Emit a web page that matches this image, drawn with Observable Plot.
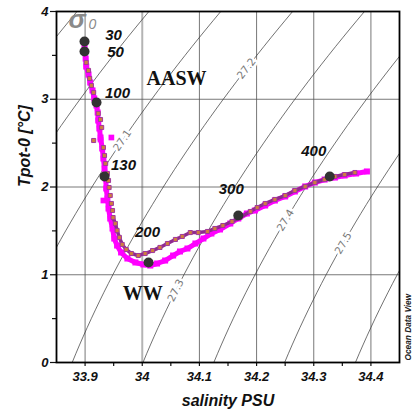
<!DOCTYPE html>
<html><head><meta charset="utf-8">
<script src="https://cdn.jsdelivr.net/npm/d3@7"></script>
<script src="https://cdn.jsdelivr.net/npm/@observablehq/plot@0.6"></script>
<style>body{margin:0;background:#fff} #chart{width:414px;height:416px}</style>
</head><body><div id="chart"></div>
<script>
// ---- data ----
const salinityTicks = [33.9, 34.0, 34.1, 34.2, 34.3, 34.4];
const salinityMinorTicks = [33.95, 34.05, 34.15, 34.25, 34.35];
const tempTicks = [0, 1, 2, 3, 4];
const tempMinorTicks = [0.5, 1.5, 2.5, 3.5];
const sigmaLevels = [26.8, 26.9, 27.0, 27.1, 27.2, 27.3, 27.4, 27.5, 27.6, 27.7];
const sigmaLabelLevels = [27.1, 27.2, 27.3, 27.4, 27.5];
const sigmaLabelTemps = [2.53, 3.35, 0.82, 1.62, 1.36];

// profile A (magenta)
const magentaS = [33.899,33.901,33.902,33.906,33.909,33.913,33.916,33.920,33.922,33.923,33.925,33.927,33.930,33.932,33.934,33.936,33.937,33.939,33.941,33.944,33.948,33.951,33.956,33.963,33.974,33.988,34.002,34.014,34.026,34.040,34.054,34.066,34.079,34.093,34.107,34.121,34.136,34.154,34.168,34.183,34.197,34.215,34.232,34.250,34.267,34.285,34.302,34.319,34.337,34.354,34.374,34.393];
const magentaT = [3.601,3.464,3.373,3.282,3.191,3.100,3.009,2.929,2.849,2.758,2.667,2.564,2.439,2.325,2.211,2.097,1.983,1.869,1.755,1.641,1.527,1.413,1.333,1.254,1.185,1.140,1.117,1.105,1.128,1.162,1.219,1.265,1.299,1.356,1.413,1.470,1.516,1.584,1.641,1.698,1.732,1.789,1.846,1.892,1.949,2.006,2.051,2.085,2.108,2.131,2.154,2.177];
const magentaOutS = [33.927, 33.946, 33.932];
const magentaOutT = [2.541, 2.564, 1.846];

// profile B (orange squares, purple outline)
const brownS = [33.902,33.906,33.908,33.911,33.915,33.918,33.923,33.927,33.929,33.932,33.934,33.936,33.939,33.941,33.942,33.944,33.946,33.948,33.949,33.953,33.956,33.960,33.965,33.972,33.981,33.993,34.005,34.018,34.031,34.044,34.058,34.070,34.084,34.098,34.114,34.127,34.141,34.157,34.171,34.189,34.201,34.215,34.232,34.250,34.267,34.285,34.302,34.319,34.337,34.354,34.372];
const brownT = [3.419,3.328,3.237,3.157,3.077,2.986,2.838,2.769,2.678,2.450,2.359,2.268,2.154,2.074,1.994,1.903,1.812,1.732,1.652,1.584,1.504,1.425,1.345,1.288,1.242,1.219,1.242,1.276,1.311,1.356,1.402,1.436,1.481,1.481,1.493,1.527,1.561,1.607,1.652,1.721,1.766,1.812,1.858,1.903,1.960,2.006,2.051,2.085,2.120,2.142,2.165];
const brownOutS = [33.915];
const brownOutT = [2.530];

// depth markers
const depths = [30, 50, 100, 130, 200, 300, 400];
const depthS = [33.899, 33.899, 33.920, 33.934, 34.011, 34.168, 34.328];
const depthT = [3.658, 3.544, 2.963, 2.120, 1.140, 1.675, 2.120];

// water masses
const waterMasses = ["AASW", "WW"];
const waterMassS = [34.060, 34.001];
const waterMassT = [3.231, 0.781];

// ---- layout ----
const W = 414, H = 416, mL = 56, mR = 15, mT = 11, mB = 54;
const xDomain = [33.85, 34.45], yDomain = [0, 4];
const kx = (W - mL - mR) / (xDomain[1] - xDomain[0]);
const ky = (H - mT - mB) / (yDomain[1] - yDomain[0]);

// UNESCO EOS-80 potential density anomaly at p = 0
function sigma0(S, T) {
  const rw = 999.842594 + 6.793952e-2*T - 9.095290e-3*T*T + 1.001685e-4*T**3 - 1.120083e-6*T**4 + 6.536332e-9*T**5;
  const A = 8.24493e-1 - 4.0899e-3*T + 7.6438e-5*T*T - 8.2467e-7*T**3 + 5.3875e-9*T**4;
  const B = -5.72466e-3 + 1.0227e-4*T - 1.6546e-6*T*T;
  const C = 4.8314e-4;
  return rw + A*S + B*Math.pow(S, 1.5) + C*S*S - 1000;
}
function solveS(level, T) {
  let lo = 33, hi = 35.5;
  for (let i = 0; i < 50; i++) { const m = (lo + hi) / 2; if (sigma0(m, T) < level) lo = m; else hi = m; }
  return (lo + hi) / 2;
}
const isoPts = [];
for (const level of sigmaLevels) for (const T of d3.range(0, 4.0001, 0.1)) isoPts.push({level, T, S: solveS(level, T)});
const isoLabels = sigmaLabelLevels.map((level, i) => {
  const T = sigmaLabelTemps[i], S = solveS(level, T), h = 1e-4;
  const gS = (sigma0(S + h, T) - sigma0(S - h, T)) / (2*h);
  const gT = (sigma0(S, T + h) - sigma0(S, T - h)) / (2*h);
  let dS = -gT, dT = gS; if (dS < 0) { dS = -dS; dT = -dT; }
  const angle = Math.atan2(-dT*ky, dS*kx) * 180 / Math.PI;
  return {level, S, T, angle};
});

const zip = (xs, ys) => xs.map((x, i) => ({S: x, T: ys[i]}));
const magenta = zip(magentaS, magentaT);
const magentaOut = zip(magentaOutS, magentaOutT);
const brown = zip(brownS, brownT);
const brownOut = zip(brownOutS, brownOutT);
const depthPts = depths.map((d, i) => ({depth: d, S: depthS[i], T: depthT[i]}));
const wm = waterMasses.map((n, i) => ({name: n, S: waterMassS[i], T: waterMassT[i]}));

const labelOffsets = {30: [29, -6], 50: [31, 1], 100: [21, -9], 130: [19, -11], 200: [-1, -30], 300: [-7, -26], 400: [-16, -25]};
const sans = "Arial, 'Liberation Sans', sans-serif";
const serif = "'Times New Roman', 'Liberation Serif', serif";
const fmt = d => String(+d.toFixed(2));

const marks = [
  Plot.gridX(salinityTicks.filter(d => d !== 34), {stroke: "#555", strokeOpacity: 1, strokeWidth: 0.8}),
  Plot.gridX([34], {stroke: "#b4b4b4", strokeOpacity: 1, strokeWidth: 2}),
  Plot.gridY([1, 2, 3], {stroke: "#555", strokeOpacity: 1, strokeWidth: 0.8}),
  Plot.line(isoPts, {x: "S", y: "T", z: "level", stroke: "#333", strokeWidth: 0.7, clip: true}),
  Plot.text(isoLabels, {x: "S", y: "T", text: d => d.level.toFixed(1), rotate: "angle", fill: "#7a7a7a",
    stroke: "white", strokeWidth: 5, fontSize: 10.5, fontFamily: "'DejaVu Sans', sans-serif", fontStyle: "normal", fontWeight: "normal"}),
  // magenta profile
  Plot.line(magenta, {x: "S", y: "T", stroke: "#ff00ff", strokeWidth: 5, strokeLinejoin: "round", strokeLinecap: "round"}),
  Plot.dot(magenta, {x: "S", y: "T", symbol: "square", r: 3.4, fill: "#ff00ff"}),
  Plot.dot(magentaOut, {x: "S", y: "T", symbol: "square", r: 3.2, fill: "#ff00ff"}),
  // brown profile
  Plot.line(brown, {filter: d => d.T < 1.7 || d.S > 34.0, x: "S", y: "T", stroke: "#8e2a8e", strokeWidth: 3.5, strokeLinejoin: "round"}),
  Plot.dot(brown, {x: "S", y: "T", symbol: "square", r: 2.3, fill: "#cf7e3e", stroke: "#a0389e", strokeWidth: 1}),
  Plot.dot(brownOut, {x: "S", y: "T", symbol: "square", r: 2.3, fill: "#cf7e3e", stroke: "#a0389e", strokeWidth: 1}),
  // depth markers
  Plot.dot(depthPts, {x: "S", y: "T", r: 5, fill: "#333"}),
  ...depthPts.map(d => Plot.text([d], {x: "S", y: "T", text: e => String(e.depth), dx: labelOffsets[d.depth][0], dy: labelOffsets[d.depth][1],
    fontSize: 15, fontWeight: "bold", fontStyle: "italic", fontFamily: sans, fill: "#111"})),
  // water masses
  Plot.text(wm, {x: "S", y: "T", text: "name", fontSize: 20, fontWeight: "bold", fontStyle: "normal", fontFamily: serif, fill: "#111"}),
  // sigma0 symbol
  Plot.text(["σ"], {frameAnchor: "top-left", text: d => d, dx: 12, dy: 8, textAnchor: "start", lineAnchor: "middle",
    fontSize: 26, fontStyle: "italic", fontWeight: "bold", fontFamily: sans, fill: "#8a8a8a"}),
  Plot.text(["0"], {frameAnchor: "top-left", text: d => d, dx: 32, dy: 13, lineAnchor: "middle",
    fontSize: 14, fontStyle: "italic", fontWeight: "normal", fontFamily: sans, fill: "#8a8a8a"}),
  // axes
  Plot.axisX({ticks: salinityTicks, tickFormat: fmt, tickSize: 4, tickPadding: 5, fontSize: 13, label: null, stroke: "#111", strokeWidth: 1.2}),
  Plot.axisX({ticks: salinityMinorTicks, tickFormat: () => "", tickSize: 4, label: null, stroke: "#111", strokeWidth: 1.2}),
  Plot.axisY({ticks: tempTicks, tickFormat: fmt, tickSize: 6, tickPadding: 2, fontSize: 13, label: null, stroke: "#111", strokeWidth: 1.2}),
  Plot.axisY({ticks: tempMinorTicks, tickFormat: () => "", tickSize: 4, label: null, stroke: "#111", strokeWidth: 1.2}),
  Plot.text(["salinity PSU"], {frameAnchor: "bottom", text: d => d, dy: 38, lineAnchor: "middle", fontSize: 16, fontWeight: "bold", fontStyle: "italic", fontFamily: sans, fill: "#111"}),
  Plot.text(["Tpot-0 [°C]"], {frameAnchor: "left", text: d => d, dx: -32, rotate: -90, lineAnchor: "middle", fontSize: 16, fontWeight: "bold", fontStyle: "italic", fontFamily: sans, fill: "#111"}),
  Plot.text(["Ocean Data View"], {frameAnchor: "bottom-right", text: d => d, dx: 9, dy: -2, rotate: -90, textAnchor: "start", lineAnchor: "middle", fontSize: 8.3, fontWeight: "bold", fontStyle: "italic", fontFamily: sans, fill: "#222"}),
  Plot.frame({stroke: "#000", strokeWidth: 1.8})
];

const chart = Plot.plot({
  width: W, height: H,
  marginLeft: mL, marginRight: mR, marginTop: mT, marginBottom: mB,
  x: {domain: xDomain, axis: null},
  y: {domain: yDomain, axis: null},
  style: {fontFamily: sans, fontWeight: "bold", fontStyle: "italic", background: "white", color: "#111", overflow: "visible"},
  marks
});
document.getElementById("chart").appendChild(chart);
</script>
</body></html>
